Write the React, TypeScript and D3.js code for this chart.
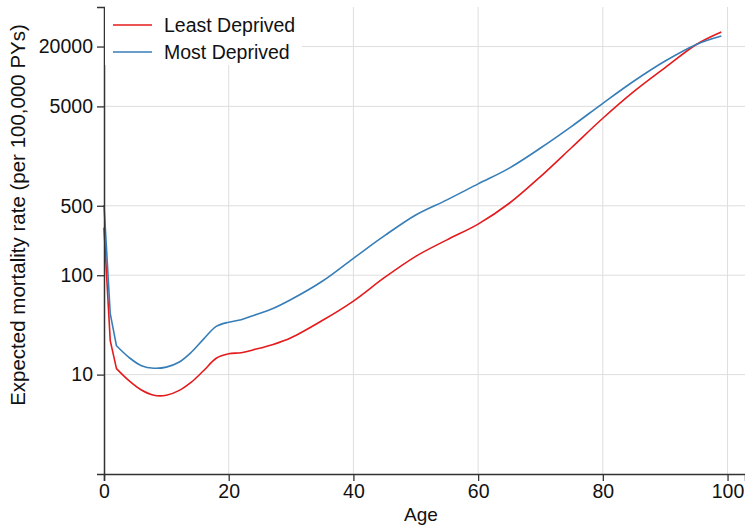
import React, { useEffect, useRef } from 'react';
import * as d3 from 'd3';

const ages = [0, 1, 2, 4, 6, 8, 10, 12, 14, 16, 18, 20, 22, 24, 27, 30, 35, 40, 45, 50, 55, 60, 65, 70, 75, 80, 85, 90, 95, 99];
// expected mortality rate per 100,000 PYs
const leastDeprived = [300, 22, 11.5, 8.7, 7.0, 6.2, 6.2, 6.9, 8.4, 11, 14.6, 16.2, 16.6, 17.8, 20, 23.5, 35, 55, 95, 155, 227, 327, 530, 984, 1930, 3800, 7080, 12300, 21000, 28000];
const mostDeprived = [509, 41, 19.5, 14.9, 12.3, 11.6, 11.9, 13.3, 16.8, 22.9, 30.6, 33.7, 35.7, 39.4, 46, 57, 87, 148, 250, 404, 573, 830, 1197, 1905, 3150, 5370, 9000, 14300, 21000, 25500];

const seriesNames = ['Least Deprived', 'Most Deprived'];
const seriesColors = ['#e41a1c', '#377eb8'];
const xTicks = [0, 20, 40, 60, 80, 100];
const yTicks = [10, 100, 500, 5000, 20000];

const W = 745, H = 525;

export default function App() {
  const ref = useRef<SVGSVGElement>(null);

  useEffect(() => {
    const svg = d3.select(ref.current);
    svg.selectAll('*').remove();
    const font = '"Liberation Sans", Arial, sans-serif';

    const margin = { top: 7, right: 0, bottom: 51, left: 104 };
    const x = d3.scaleLinear().domain([0, 102.8]).range([margin.left, W - margin.right]);
    const y = d3.scaleLog().domain([1, 50000]).range([H - margin.bottom, margin.top]);

    // gridlines
    svg.append('g')
      .selectAll('line')
      .data(xTicks.filter(d => d > 0))
      .enter().append('line')
      .attr('x1', d => x(d)).attr('x2', d => x(d))
      .attr('y1', y.range()[0]).attr('y2', y.range()[1])
      .attr('stroke', '#dedede').attr('stroke-width', 1);
    svg.append('g')
      .selectAll('line')
      .data(yTicks)
      .enter().append('line')
      .attr('x1', x.range()[0]).attr('x2', x.range()[1])
      .attr('y1', d => y(d)).attr('y2', d => y(d))
      .attr('stroke', '#dedede').attr('stroke-width', 1);

    // lines: straight through the first years, smooth afterwards
    const series = [leastDeprived, mostDeprived];
    const pts = (s: number[]) => s.map((v, i) => [x(ages[i]), y(v)] as [number, number]);
    const straight = d3.line().curve(d3.curveLinear);
    const smooth = d3.line().curve(d3.curveCatmullRom.alpha(0.5));
    series.forEach((s, i) => {
      const p = pts(s);
      svg.append('path')
        .attr('d', straight(p.slice(0, 3)) + (smooth(p.slice(2)) || '').replace(/^M/, 'L'))
        .attr('fill', 'none')
        .attr('stroke', seriesColors[i])
        .attr('stroke-width', 1.6)
        .attr('stroke-linejoin', 'round');
    });

    // axes
    const xAxis = svg.append('g')
      .attr('transform', `translate(0,${y.range()[0]})`)
      .call(d3.axisBottom(x).tickValues(xTicks).tickSizeOuter(0).tickSize(7).tickPadding(3).tickFormat(d3.format('d')));
    const yAxis = svg.append('g')
      .attr('transform', `translate(${x.range()[0]},0)`)
      .call(d3.axisLeft(y).tickValues(yTicks).tickSizeOuter(0).tickSize(7).tickPadding(4).tickFormat(d3.format('d')));
    [xAxis, yAxis].forEach(a => {
      a.select('.domain').attr('stroke', '#333').attr('stroke-width', 1.5);
      a.selectAll('.tick line').attr('stroke', '#333').attr('stroke-width', 1.3);
      a.selectAll('.tick text').attr('fill', '#111').style('font-family', font).style('font-size', '19.5px');
    });

    // axis titles
    svg.append('text')
      .attr('x', 421).attr('y', 521)
      .attr('text-anchor', 'middle')
      .style('font-family', font).style('font-size', '19px').attr('fill', '#111')
      .text('Age');
    svg.append('text')
      .attr('transform', 'translate(25,215) rotate(-90)')
      .attr('text-anchor', 'middle')
      .style('font-family', font).style('font-size', '20.5px').attr('fill', '#111')
      .text('Expected mortality rate (per 100,000 PYs)');

    // legend
    const lg = svg.append('g');
    lg.append('rect')
      .attr('x', x.range()[0] + 1).attr('y', margin.top)
      .attr('width', 197).attr('height', 58)
      .attr('fill', '#fff');
    seriesNames.forEach((n, i) => {
      const ly = 25 + i * 27;
      lg.append('line')
        .attr('x1', 113).attr('x2', 152)
        .attr('y1', ly).attr('y2', ly)
        .attr('stroke', seriesColors[i]).attr('stroke-width', 1.6);
      lg.append('text')
        .attr('x', 164).attr('y', ly)
        .attr('dy', '0.35em')
        .style('font-family', font).style('font-size', '19.5px').attr('fill', '#111')
        .text(n);
    });
  }, []);

  return (
    <svg ref={ref} width={W} height={H}
      style={{ position: 'absolute', left: 0, top: 0, background: '#fff' }} />
  );
}
